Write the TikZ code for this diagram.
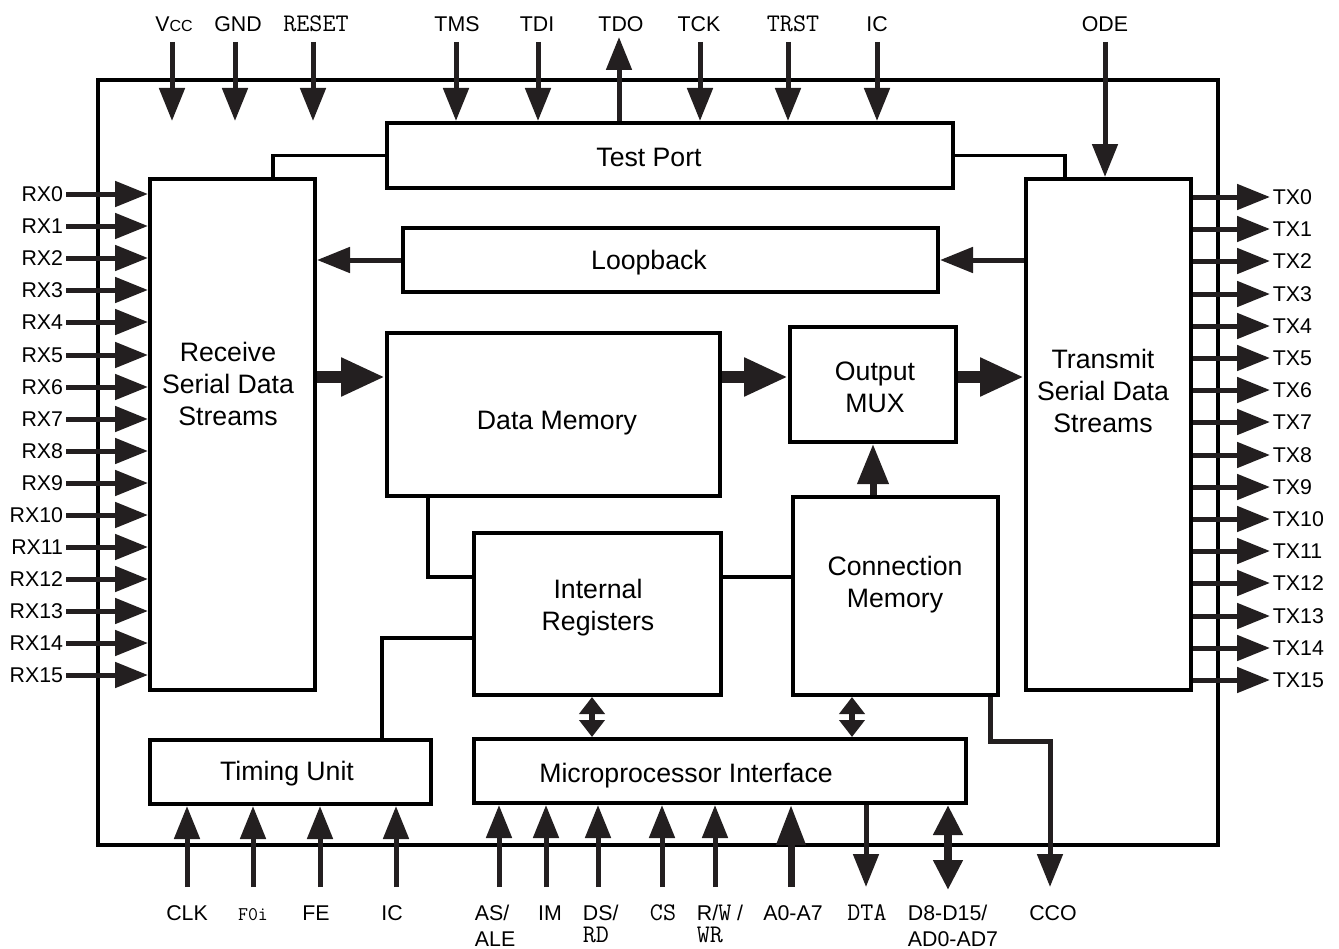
\documentclass[tikz,border=0pt]{standalone}
\usepackage{fontspec}
\setmainfont{Liberation Sans}
\usetikzlibrary{arrows.meta,fit}
\definecolor{arrowc}{RGB}{35,31,32}
\newcommand{\pinmono}[1]{{\ttfamily\fontsize{19}{19.5}\selectfont #1}}

\begin{document}
\begin{tikzpicture}[x=0.75pt,y=-0.75pt,line join=miter,
  box/.style={draw,line width=3pt,inner sep=0pt},
  wire/.style={line width=2.6pt},
  sig/.style={arrowc,line width=3.75pt,-{Triangle[length=24.75pt,width=18.75pt]}},
  bus/.style={arrowc,line width=9pt,-{Triangle[length=33pt,width=27pt]}},
  upbus/.style={arrowc,line width=5.25pt,-{Triangle[length=30pt,width=22.5pt]}},
  addr/.style={arrowc,line width=5.25pt,-{Triangle[length=30pt,width=21pt]}},
  duplex/.style={arrowc,line width=4.5pt,{Triangle[length=12.75pt,width=18.75pt]}-{Triangle[length=12.75pt,width=18.75pt]}},
  dbus/.style={arrowc,line width=6pt,{Triangle[length=22.5pt,width=21pt]}-{Triangle[length=22.5pt,width=21pt]}},
  lbl/.style={font=\fontsize{16}{19.5}\selectfont,inner sep=2pt},
  txt/.style={font=\fontsize{20}{24}\selectfont,align=center}]
\useasboundingbox (0,0) rectangle (1339,949);
% blocks
\node[box,fit={(98,80) (1218,845)}] (chip) {};
\node[box,fit={(387,123) (953,188)}] (test) {};
\node[box,fit={(150,179) (315,690)}] (recv) {};
\node[box,fit={(1026,179) (1191,690)}] (xmit) {};
\node[box,fit={(403,228) (938,292)}] (loop) {};
\node[box,fit={(387,333) (720,496)}] (dmem) {};
\node[box,fit={(790,327) (956,442)}] (omux) {};
\node[box,fit={(793,497) (998,695)}] (cmem) {};
\node[box,fit={(474,533) (721,695)}] (ireg) {};
\node[box,fit={(150,740) (431,804)}] (timing) {};
\node[box,fit={(474,739) (966,803)}] (mpi) {};
\node[txt] (testT) at (649,157) {Test Port};
\node[txt] (loopT) at (649,263) {Loopback};
\node[txt] (recvT) at (228,384) {Receive\\Serial Data\\Streams};
\node[txt] (xmitT) at (1103,391) {Transmit\\Serial Data\\Streams};
\node[txt] (dmemT) at (557,423) {Data Memory};
\node[txt] (omuxT) at (875,387) {Output\\MUX};
\node[txt] (cmemT) at (895,585) {Connection\\Memory};
\node[txt] (iregT) at (598,608) {Internal\\Registers};
\node[txt] (timingT) at (287,774) {Timing Unit};
\node[txt] (mpiT) at (686,776) {Microprocessor Interface};
% internal connections
\coordinate (tpl) at (273,154);
\coordinate (tpr) at (1065,154);
\draw[wire] (test.west) -| (recv.north -| tpl);
\draw[wire] (test.east) -| (xmit.north -| tpr);
\draw[sig] (loop.west) -- (loop.west -| recv.east);
\draw[sig] (xmit.west |- loop.east) -- (loop.east);
\coordinate (dpath) at (0,377);
\draw[bus] (recv.east |- dpath) -- (dmem.west |- dpath);
\draw[bus] (dmem.east |- dpath) -- (omux.west |- dpath);
\draw[bus] (omux.east |- dpath) -- (xmit.west |- dpath);
\coordinate (mux) at (873,0);
\draw[upbus] (cmem.north -| mux) -- (omux.south -| mux);
\coordinate (dm) at (428,577);
\draw[wire] (dmem.south -| dm) |- (ireg.west |- dm);
\draw[wire] (ireg.east |- dm) -- (cmem.west |- dm);
\coordinate (tu) at (382,638);
\draw[wire] (ireg.west |- tu) -| (timing.north -| tu);
\coordinate (rb) at (592,0);
\coordinate (cb) at (852,0);
\draw[duplex] (ireg.south -| rb) -- (mpi.north -| rb);
\draw[duplex] (cmem.south -| cb) -- (mpi.north -| cb);
% top pins
\coordinate (vcc) at (172,42); \draw[sig] (vcc) -- (vcc |- test.north);
\coordinate (gnd) at (235,42); \draw[sig] (gnd) -- (gnd |- test.north);
\coordinate (rst) at (313,42); \draw[sig] (rst) -- (rst |- test.north);
\coordinate (tms) at (456,42); \draw[sig] (tms) -- (tms |- test.north);
\coordinate (tdi) at (538,42); \draw[sig] (tdi) -- (tdi |- test.north);
\coordinate (tdo) at (619,37); \draw[sig] (tdo |- test.north) -- (tdo);
\coordinate (tck) at (700,42); \draw[sig] (tck) -- (tck |- test.north);
\coordinate (trst) at (788,42); \draw[sig] (trst) -- (trst |- test.north);
\coordinate (ict) at (877,42); \draw[sig] (ict) -- (ict |- test.north);
\coordinate (ode) at (1105,42); \draw[sig] (ode) -- (ode |- xmit.north);
\node[lbl,anchor=base] (vccL) at (174,32) {V{\fontsize{12}{12}\selectfont CC}};
\node[lbl,anchor=base] (gndL) at (238,32) {GND};
\node[lbl,anchor=base] (rstL) at (316,32) {\pinmono{RESET}};
\node[lbl,anchor=base] (tmsL) at (457,32) {TMS};
\node[lbl,anchor=base] (tdiL) at (537,32) {TDI};
\node[lbl,anchor=base] (tdoL) at (621,32) {TDO};
\node[lbl,anchor=base] (tckL) at (699,32) {TCK};
\node[lbl,anchor=base] (trstL) at (793,32) {\pinmono{TRST}};
\node[lbl,anchor=base] (ictL) at (877,32) {IC};
\node[lbl,anchor=base] (odeL) at (1105,32) {ODE};
% bottom pins
\coordinate (clk) at (187,887); \draw[sig] (clk) -- (clk |- timing.south);
\coordinate (f0i) at (253,887); \draw[sig] (f0i) -- (f0i |- timing.south);
\coordinate (fe) at (320,887); \draw[sig] (fe) -- (fe |- timing.south);
\coordinate (icb) at (396,887); \draw[sig] (icb) -- (icb |- timing.south);
\coordinate (as) at (499,887); \draw[sig] (as) -- (as |- mpi.south);
\coordinate (im) at (546,887); \draw[sig] (im) -- (im |- mpi.south);
\coordinate (ds) at (598,887); \draw[sig] (ds) -- (ds |- mpi.south);
\coordinate (cs) at (662,887); \draw[sig] (cs) -- (cs |- mpi.south);
\coordinate (rw) at (715,887); \draw[sig] (rw) -- (rw |- mpi.south);
\coordinate (adr) at (791,887); \draw[addr] (adr) -- (adr |- mpi.south);
\coordinate (dta) at (866,887); \draw[sig] (dta |- mpi.south) -- (dta);
\coordinate (dat) at (948,890); \draw[dbus] (dat |- mpi.south) -- (dat);
\coordinate (ccoa) at (990,741);
\coordinate (cco) at (1050,887);
\draw[sig] (cmem.south -| ccoa) |- (ccoa -| cco) -- (cco);
\node[lbl,anchor=base] (clkL) at (187,920) {CLK};
\node[lbl,anchor=base] (f0iL) at (253,920) {{\ttfamily\fontsize{14.5}{14.5}\selectfont F0i}};
\node[lbl,anchor=base] (feL) at (316,920) {FE};
\node[lbl,anchor=base] (icbL) at (392,920) {IC};
\node[lbl,anchor=north west,align=left] (asL) at (472,902) {AS/\\ALE};
\node[lbl,anchor=base] (imL) at (550,920) {IM};
\node[lbl,anchor=north west,align=left] (dsL) at (580,902) {DS/\\[-3pt]\pinmono{RD}};
\node[lbl,anchor=base] (csL) at (663,920) {\pinmono{CS}};
\node[lbl,anchor=north west,align=left] (rwL) at (694,902) {R/\pinmono{W} /\\[-3pt]\pinmono{WR}};
\node[lbl,anchor=base] (adrL) at (793,920) {A0-A7};
\node[lbl,anchor=base] (dtaL) at (867,920) {\pinmono{DTA}};
\node[lbl,anchor=north west,align=left] (datL) at (905,902) {D8-D15/\\AD0-AD7};
\node[lbl,anchor=base] (ccoL) at (1053,920) {CCO};
% serial inputs
\node[lbl,anchor=east] (rx0) at (66,194) {RX0}; \draw[sig] (rx0.east) -- (rx0.east -| recv.west);
\node[lbl,anchor=east] (rx1) at (66,226) {RX1}; \draw[sig] (rx1.east) -- (rx1.east -| recv.west);
\node[lbl,anchor=east] (rx2) at (66,258) {RX2}; \draw[sig] (rx2.east) -- (rx2.east -| recv.west);
\node[lbl,anchor=east] (rx3) at (66,290) {RX3}; \draw[sig] (rx3.east) -- (rx3.east -| recv.west);
\node[lbl,anchor=east] (rx4) at (66,322) {RX4}; \draw[sig] (rx4.east) -- (rx4.east -| recv.west);
\node[lbl,anchor=east] (rx5) at (66,355) {RX5}; \draw[sig] (rx5.east) -- (rx5.east -| recv.west);
\node[lbl,anchor=east] (rx6) at (66,387) {RX6}; \draw[sig] (rx6.east) -- (rx6.east -| recv.west);
\node[lbl,anchor=east] (rx7) at (66,419) {RX7}; \draw[sig] (rx7.east) -- (rx7.east -| recv.west);
\node[lbl,anchor=east] (rx8) at (66,451) {RX8}; \draw[sig] (rx8.east) -- (rx8.east -| recv.west);
\node[lbl,anchor=east] (rx9) at (66,483) {RX9}; \draw[sig] (rx9.east) -- (rx9.east -| recv.west);
\node[lbl,anchor=east] (rx10) at (66,515) {RX10}; \draw[sig] (rx10.east) -- (rx10.east -| recv.west);
\node[lbl,anchor=east] (rx11) at (66,547) {RX11}; \draw[sig] (rx11.east) -- (rx11.east -| recv.west);
\node[lbl,anchor=east] (rx12) at (66,579) {RX12}; \draw[sig] (rx12.east) -- (rx12.east -| recv.west);
\node[lbl,anchor=east] (rx13) at (66,611) {RX13}; \draw[sig] (rx13.east) -- (rx13.east -| recv.west);
\node[lbl,anchor=east] (rx14) at (66,643) {RX14}; \draw[sig] (rx14.east) -- (rx14.east -| recv.west);
\node[lbl,anchor=east] (rx15) at (66,675) {RX15}; \draw[sig] (rx15.east) -- (rx15.east -| recv.west);
% serial outputs
\node[lbl,anchor=west] (tx0) at (1270,197) {TX0}; \draw[sig] (tx0.west -| xmit.east) -- (tx0.west);
\node[lbl,anchor=west] (tx1) at (1270,229) {TX1}; \draw[sig] (tx1.west -| xmit.east) -- (tx1.west);
\node[lbl,anchor=west] (tx2) at (1270,261) {TX2}; \draw[sig] (tx2.west -| xmit.east) -- (tx2.west);
\node[lbl,anchor=west] (tx3) at (1270,294) {TX3}; \draw[sig] (tx3.west -| xmit.east) -- (tx3.west);
\node[lbl,anchor=west] (tx4) at (1270,326) {TX4}; \draw[sig] (tx4.west -| xmit.east) -- (tx4.west);
\node[lbl,anchor=west] (tx5) at (1270,358) {TX5}; \draw[sig] (tx5.west -| xmit.east) -- (tx5.west);
\node[lbl,anchor=west] (tx6) at (1270,390) {TX6}; \draw[sig] (tx6.west -| xmit.east) -- (tx6.west);
\node[lbl,anchor=west] (tx7) at (1270,422) {TX7}; \draw[sig] (tx7.west -| xmit.east) -- (tx7.west);
\node[lbl,anchor=west] (tx8) at (1270,455) {TX8}; \draw[sig] (tx8.west -| xmit.east) -- (tx8.west);
\node[lbl,anchor=west] (tx9) at (1270,487) {TX9}; \draw[sig] (tx9.west -| xmit.east) -- (tx9.west);
\node[lbl,anchor=west] (tx10) at (1270,519) {TX10}; \draw[sig] (tx10.west -| xmit.east) -- (tx10.west);
\node[lbl,anchor=west] (tx11) at (1270,551) {TX11}; \draw[sig] (tx11.west -| xmit.east) -- (tx11.west);
\node[lbl,anchor=west] (tx12) at (1270,583) {TX12}; \draw[sig] (tx12.west -| xmit.east) -- (tx12.west);
\node[lbl,anchor=west] (tx13) at (1270,616) {TX13}; \draw[sig] (tx13.west -| xmit.east) -- (tx13.west);
\node[lbl,anchor=west] (tx14) at (1270,648) {TX14}; \draw[sig] (tx14.west -| xmit.east) -- (tx14.west);
\node[lbl,anchor=west] (tx15) at (1270,680) {TX15}; \draw[sig] (tx15.west -| xmit.east) -- (tx15.west);
\end{tikzpicture}
\end{document}
